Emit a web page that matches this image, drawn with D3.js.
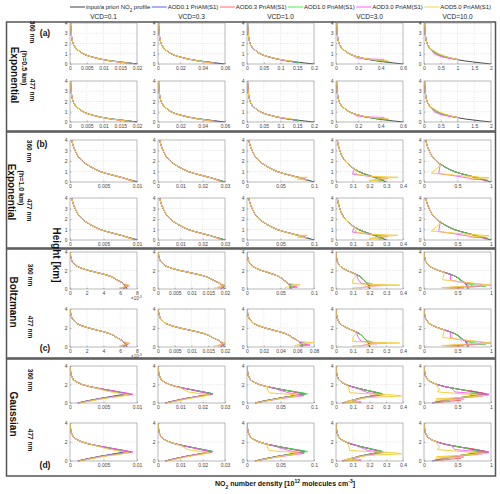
<!DOCTYPE html>
<html><head><meta charset="utf-8">
<script src="https://cdn.jsdelivr.net/npm/d3@7"></script>
<style>body{margin:0;background:#fff} svg{display:block}</style>
</head><body>
<svg id="chart" width="500" height="494"></svg>
<script>
// ---------------- DATA ----------------
const columnTitles = ["VCD=0.1","VCD=0.3","VCD=1.0","VCD=3.0","VCD=10.0"];
const seriesNames = ["input/a priori NO2 profile","AOD0.1 PriAM(S1)","AOD0.3 PriAM(S1)","AOD1.0 PriAM(S1)","AOD3.0 PriAM(S1)","AOD5.0 PriAM(S1)"];
const groupLetters = ["(a)","(b)","(c)","(d)"];
const profileNames = ["Exponential","Exponential","Boltzmann","Gaussian"];
const scaleHeights = ["(h=0.5 km)","(h=1.0 km)","",""];
const wavelengths = ["360 nm","477 nm"];

// heights (km) of the a priori profile samples
const heights = [0,0.1,0.2,0.3,0.4,0.5,0.6,0.7,0.8,0.9,1.0,1.2,1.4,1.6,1.8,2.0,2.25,2.5,3.0,3.5,4.0];
// a priori profiles, relative to their value at the peak
const aprioriA = [1,0.86,0.73,0.61,0.52,0.44,0.38,0.32,0.27,0.23,0.195,0.15,0.11,0.08,0.06,0.045,0.035,0.027,0.017,0.012,0.008];
const aprioriB = [1,0.95,0.89,0.84,0.79,0.73,0.67,0.61,0.55,0.5,0.45,0.38,0.32,0.27,0.22,0.18,0.145,0.115,0.075,0.045,0.025];
const aprioriC = [1,0.995,0.985,0.975,0.96,0.95,0.93,0.91,0.88,0.85,0.82,0.77,0.7,0.59,0.46,0.33,0.2,0.11,0.035,0.012,0.004];
const aprioriD = [0.14,0.2,0.27,0.35,0.44,0.53,0.63,0.73,0.83,0.93,1.0,0.82,0.64,0.47,0.32,0.21,0.12,0.06,0.02,0.008,0.004];

// peak a priori NO2 number density per VCD column (10^12 molec cm-3)
const peaksA = [0.02,0.06,0.2,0.6,2.0];
const peaksB = [0.01,0.03,0.1,0.3,1.0];
const peaksC = [0.0068,0.0198,0.066,0.2,0.66];
const peaksD = [0.0087,0.0245,0.087,0.275,0.92];

// x tick values per column
const xTicksA = [[0,0.005,0.01,0.015,0.02],[0,0.02,0.04,0.06],[0,0.05,0.1,0.15,0.2],[0,0.2,0.4,0.6],[0,0.5,1,1.5,2]];
const xTicksB = [[0,0.005,0.01],[0,0.01,0.02,0.03],[0,0.05,0.1],[0,0.1,0.2,0.3,0.4],[0,0.5,1]];
const xTicksC = [[0,0.002,0.004,0.006,0.008],[0,0.005,0.01,0.015,0.02],[0,0.05,0.1],[0,0.1,0.2,0.3,0.4],[0,0.5,1]];
const xTicksC477 = [[0,0.002,0.004,0.006,0.008],[0,0.005,0.01,0.015,0.02],[0,0.02,0.04,0.06,0.08],[0,0.1,0.2,0.3,0.4],[0,0.5,1]];
const xTicksD = [[0,0.005,0.01],[0,0.01,0.02,0.03],[0,0.05,0.1],[0,0.1,0.2,0.3,0.4],[0,0.5,1]];
const yTicksExp = [0,1,2,3,4];
const yTicksOther = [0,2,4];

// retrieved profiles (AOD0.1, 0.3, 1.0, 3.0, 5.0): lower part as [height, value relative to peak];
// above the first listed height they coincide with the a priori
const tailsA = [
 [[[0.3,0.62],[0.15,0.82],[0.05,0.95],[0,1.0]],
  [[0.3,0.6],[0.15,0.8],[0.05,0.93],[0.02,0.97]],
  [[0.3,0.63],[0.15,0.83],[0.05,0.93],[0.03,0.95]],
  [[0.3,0.59],[0.15,0.78],[0.06,0.88],[0.03,0.92]],
  [[0.3,0.6],[0.15,0.77],[0.08,0.85],[0.05,0.88]]],
 [[[0.3,0.62],[0.15,0.8],[0.05,0.9],[0.02,0.93]],
  [[0.3,0.6],[0.15,0.78],[0.05,0.88],[0.03,0.9]],
  [[0.3,0.63],[0.15,0.8],[0.06,0.86],[0.04,0.88]],
  [[0.3,0.58],[0.15,0.75],[0.06,0.85],[0.03,0.88]],
  [[0.3,0.59],[0.15,0.74],[0.08,0.8],[0.05,0.84]]],
 [[[0.4,0.52],[0.25,0.65],[0.15,0.74]],
  [[0.4,0.52],[0.25,0.66],[0.2,0.71]],
  [[0.4,0.53],[0.25,0.68],[0.15,0.78]],
  [[0.45,0.47],[0.3,0.6],[0.25,0.68]],
  [[0.45,0.5],[0.35,0.6],[0.3,0.67]]],
 [[[0.5,0.44],[0.35,0.63],[0.25,0.76]],
  [[0.5,0.43],[0.35,0.62],[0.3,0.72]],
  [[0.5,0.46],[0.3,0.66],[0.2,0.8]],
  [[0.8,0.27],[0.6,0.3],[0.5,0.45],[0.45,0.72]],
  [[0.5,0.47],[0.4,0.62],[0.35,0.78]]],
 [[[0.8,0.27],[0.6,0.38],[0.45,0.5],[0,0.5]],
  [[0.8,0.26],[0.6,0.37],[0.45,0.5],[0,0.5]],
  [[0.8,0.27],[0.6,0.39],[0.4,0.5],[0,0.5]],
  [[1.4,0.11],[1.0,0.15],[0.7,0.26],[0.5,0.42],[0.45,0.5],[0,0.5]],
  [[1.4,0.12],[1.0,0.22],[0.7,0.34],[0.5,0.46],[0.45,0.5],[0,0.5]]]
];
const tailsB = [
 [[[0.2,0.9],[0.1,0.96],[0.02,1.0]],
  [[0.2,0.88],[0.1,0.94],[0.03,0.98]],
  [[0.2,0.9],[0.1,0.95],[0.04,0.97]],
  [[0.2,0.87],[0.1,0.93],[0.04,0.96]],
  [[0.2,0.88],[0.1,0.92],[0.05,0.95]]],
 [[[0.2,0.9],[0.1,0.95],[0.02,0.99]],
  [[0.2,0.89],[0.1,0.94],[0.03,0.97]],
  [[0.2,0.91],[0.1,0.96],[0.04,0.98]],
  [[0.2,0.87],[0.1,0.92],[0.04,0.95]],
  [[0.2,0.88],[0.1,0.91],[0.05,0.94]]],
 [[[0.4,0.8],[0.2,0.9],[0.1,0.95]],
  [[0.4,0.8],[0.25,0.86],[0.15,0.9]],
  [[0.4,0.82],[0.2,0.9],[0.12,0.92]],
  [[0.5,0.72],[0.35,0.86],[0.3,0.84],[0.15,0.88]],
  [[0.6,0.66],[0.45,0.75],[0.45,0.9],[0.35,0.8],[0.25,0.75],[0.2,0.9]]],
 [[[0.3,0.84],[0.15,0.92],[0.05,0.97]],
  [[0.6,0.62],[0.5,0.75],[0.3,0.9],[0.1,0.95]],
  [[0.5,0.72],[0.3,0.86],[0.1,0.95]],
  [[1.2,0.36],[0.75,0.33],[0.6,0.57],[0.35,1.03],[0.15,0.83],[0.05,0.9]],
  [[1.0,0.42],[0.8,0.37],[0.55,0.67],[0.45,1.23],[0.35,0.93],[0.15,0.67],[0.1,0.9]]],
 [[[0.6,0.67],[0.3,0.85],[0.1,0.95]],
  [[0.6,0.66],[0.3,0.84],[0.15,0.9],[0.05,0.93]],
  [[0.6,0.68],[0.3,0.86],[0.1,0.96]],
  [[1.6,0.24],[0.8,0.22],[0.6,0.45],[0.35,0.68],[0.25,0.75],[0.2,0.95]],
  [[1.6,0.25],[0.85,0.11],[0.75,0.3],[0.6,0.55],[0.4,0.97],[0.3,0.7],[0.15,0.75]]]
];
const tailsC = [
 [[[0.5,0.95],[0.3,1.0],[0.1,0.96],[0.02,0.93]],
  [[0.5,0.94],[0.3,1.02],[0.15,0.98],[0.05,0.94]],
  [[0.5,0.96],[0.3,1.01],[0.1,0.94]],
  [[0.5,0.95],[0.35,1.04],[0.2,0.95],[0.08,0.9]],
  [[0.6,0.92],[0.4,1.05],[0.3,0.97],[0.15,0.9],[0.1,0.86]]],
 [[[0.5,0.95],[0.3,1.0],[0.1,0.97],[0.02,0.95]],
  [[0.5,0.94],[0.3,1.01],[0.15,0.97],[0.05,0.93]],
  [[0.5,0.96],[0.3,1.01],[0.1,0.95]],
  [[0.5,0.95],[0.35,1.02],[0.2,0.93],[0.08,0.9]],
  [[0.6,0.92],[0.4,1.03],[0.3,0.95],[0.15,0.88],[0.1,0.84]]],
 [[[0.5,0.95],[0.3,1.02],[0.1,0.96]],
  [[0.5,0.96],[0.25,1.08],[0.15,0.95]],
  [[0.55,0.95],[0.4,1.06],[0.25,0.98],[0.1,0.96]],
  [[0.5,0.95],[0.2,1.14],[0.12,0.95]],
  [[0.6,0.93],[0.45,1.2],[0.35,0.98],[0.2,0.9],[0.1,0.85]]],
 [[[0.6,0.93],[0.3,1.0],[0.1,0.98]],
  [[0.6,0.92],[0.45,1.05],[0.3,0.97],[0.1,0.95]],
  [[0.7,0.92],[0.5,1.1],[0.45,1.2],[0.3,1.0],[0.1,0.97]],
  [[1.5,0.62],[1.1,0.65],[0.6,0.75],[0.45,1.2],[0.4,1.5],[0.3,1.0],[0.1,0.7]],
  [[1.45,0.6],[1.0,0.5],[0.6,0.5],[0.5,1.0],[0.42,1.9],[0.35,1.1],[0.2,0.9],[0.1,0.5]]],
 [[[0.6,0.93],[0.35,1.0],[0.1,0.98]],
  [[0.8,0.87],[0.5,1.05],[0.3,1.1],[0.15,0.6],[0.1,0.9]],
  [[1.0,0.8],[0.6,0.95],[0.35,1.25],[0.3,1.4],[0.2,1.0],[0.1,0.95]],
  [[1.5,0.6],[1.0,0.6],[0.8,0.75],[0.5,1.3],[0.4,1.5],[0.25,1.0],[0.15,0.5],[0.1,0.8]],
  [[1.6,0.45],[1.0,0.42],[0.8,0.8],[0.45,1.45],[0.4,1.52],[0.3,0.9],[0.15,0.4],[0.08,0.75]]]
];
const tailsD = [
 [[[1.4,0.64],[1.0,0.98],[0.5,0.52],[0,0.13]],
  [[1.4,0.66],[0.95,1.05],[0.5,0.54],[0,0.14]],
  [[1.4,0.65],[0.9,1.04],[0.5,0.55],[0,0.14]],
  [[1.4,0.67],[0.95,1.08],[0.5,0.56],[0,0.14]],
  [[1.6,0.45],[1.3,0.62],[0.85,1.01],[0.5,0.6],[0,0.16]]],
 [[[1.4,0.65],[1.0,1.0],[0.5,0.52],[0,0.13]],
  [[1.4,0.63],[0.95,0.96],[0.5,0.5],[0,0.13]],
  [[1.4,0.66],[1.0,1.0],[0.5,0.54],[0,0.14]],
  [[1.4,0.64],[0.95,0.97],[0.5,0.54],[0,0.14]],
  [[1.6,0.42],[1.2,0.55],[0.85,0.95],[0.5,0.58],[0,0.16]]],
 [[[1.2,0.82],[1.0,1.0],[0.5,0.53],[0,0.14]],
  [[1.2,0.8],[0.95,0.98],[0.5,0.54],[0,0.14]],
  [[1.2,0.86],[1.0,1.04],[0.5,0.55],[0,0.14]],
  [[1.4,0.55],[1.1,0.72],[0.8,0.98],[0.4,0.5],[0,0.14]],
  [[1.7,0.38],[1.6,0.34],[1.1,0.38],[0.9,0.8],[0.8,0.9],[0.4,0.48],[0,0.15]]],
 [[[1.2,0.82],[1.0,1.0],[0.5,0.5],[0,0.14]],
  [[1.2,0.8],[0.95,1.0],[0.5,0.5],[0,0.14]],
  [[1.2,0.85],[1.0,1.02],[0.5,0.52],[0,0.15]],
  [[1.5,0.5],[1.1,0.7],[0.9,1.06],[0.5,0.55],[0.15,0.35],[0.1,0.55],[0,0.15]],
  [[1.9,0.25],[1.5,0.28],[1.1,0.3],[0.85,1.3],[0.75,1.42],[0.6,0.7],[0.3,0.35],[0.15,0.2],[0.1,0.5],[0,0.15]]],
 [[[1.3,0.75],[1.0,1.0],[0.5,0.5],[0,0.13]],
  [[1.3,0.78],[0.95,1.05],[0.6,0.6],[0.4,0.4],[0.3,0.6],[0,0.15]],
  [[1.3,0.7],[1.1,0.8],[0.9,1.05],[0.6,0.6],[0.5,0.55],[0,0.15]],
  [[1.6,0.45],[1.2,0.5],[0.9,1.05],[0.7,0.9],[0.5,0.5],[0.4,0.65],[0.3,0.3],[0,0.15]],
  [[1.9,0.2],[1.5,0.25],[1.2,0.22],[1.0,0.6],[0.8,1.0],[0.6,0.6],[0.45,0.2],[0.4,0.65],[0.3,0.2],[0,0.15]]]
];

// ---------------- DRAWING ----------------
const FONT = "'Liberation Sans', Arial, sans-serif";
const colors = ["#2a2a2a","#4646ff","#ff5a5a","#3ce83c","#ff46ff","#f0d040"];
const svg = d3.select("#chart");
svg.append("rect").attr("width",500).attr("height",494).attr("fill","#fff");

const groups = [
 {apriori:aprioriA, peaks:peaksA, ticks:[xTicksA,xTicksA], tails:tailsA, yTicks:yTicksExp},
 {apriori:aprioriB, peaks:peaksB, ticks:[xTicksB,xTicksB], tails:tailsB, yTicks:yTicksExp},
 {apriori:aprioriC, peaks:peaksC, ticks:[xTicksC,xTicksC477], tails:tailsC, yTicks:yTicksOther},
 {apriori:aprioriD, peaks:peaksD, ticks:[xTicksD,xTicksD], tails:tailsD, yTicks:yTicksOther}
];

const colLeft = [70,158,247,336,424], panelW = 67;
const rowBox = [[[23,64],[81,122]],[[140,182],[198,240]],[[252,289],[309,347]],[[366,403],[423,461]]];
const groupBox = [[22,131],[132,248],[249,358],[359,476]];

groupBox.forEach(([t,b]) => svg.append("rect")
  .attr("x",6.5).attr("y",t).attr("width",489).attr("height",b-t)
  .attr("fill","none").attr("stroke","#555").attr("stroke-width",1.5));

const defs = svg.append("defs");
const fmt = d3.format("~g");

groups.forEach((G, gi) => {
  [0,1].forEach(ri => {
    const [top,bottom] = rowBox[gi][ri];
    for (let ci=0; ci<5; ci++) {
      const ticks = G.ticks[ri][ci];
      const xmax = ticks[ticks.length-1];
      const x = d3.scaleLinear().domain([0,xmax]).range([colLeft[ci], colLeft[ci]+panelW]);
      const y = d3.scaleLinear().domain([0,4]).range([bottom, top]);
      const g = svg.append("g");
      g.append("rect").attr("x",colLeft[ci]).attr("y",top).attr("width",panelW).attr("height",bottom-top).attr("fill","#fff");
      // grid
      g.selectAll(".gx").data(ticks.slice(1,-1)).join("line").attr("class","gx")
        .attr("x1",d=>x(d)).attr("x2",d=>x(d)).attr("y1",top).attr("y2",bottom)
        .attr("stroke","#d4d4d4").attr("stroke-width",0.5).attr("stroke-dasharray","1,1");
      g.selectAll(".gy").data(G.yTicks.slice(1,-1)).join("line").attr("class","gy")
        .attr("y1",d=>y(d)).attr("y2",d=>y(d)).attr("x1",colLeft[ci]).attr("x2",colLeft[ci]+panelW)
        .attr("stroke","#d4d4d4").attr("stroke-width",0.5).attr("stroke-dasharray","1,1");
      // axes
      const xa = d3.axisBottom(x).tickValues(ticks).tickSize(-1.5).tickPadding(2.5)
        .tickFormat(d => (gi===2 && ci===0) ? fmt(Math.round(d*1000)) : fmt(d));
      const ya = d3.axisLeft(y).tickValues(G.yTicks).tickSize(-1.5).tickPadding(2.5).tickFormat(fmt);
      const gx = g.append("g").attr("transform",`translate(0,${bottom})`).call(xa);
      const gy = g.append("g").attr("transform",`translate(${colLeft[ci]},0)`).call(ya);
      [gx,gy].forEach(a => {
        a.select(".domain").remove();
        a.selectAll("line").attr("stroke","#777").attr("stroke-width",0.5);
        a.selectAll("text").attr("font-family",FONT).attr("font-size",5).attr("fill","#444");
      });
      gx.selectAll("text").attr("dy","0.6em");
      if (gi===2 && ci===0) {
        const t = g.append("text").attr("x",colLeft[ci]+panelW-6).attr("y",bottom+11)
          .attr("font-family",FONT).attr("font-size",4.5).attr("fill","#444").text("\u00d710");
        t.append("tspan").attr("baseline-shift","super").attr("font-size",3.5).text("-3");
      }
      // clip
      const cid = `cp${gi}${ri}${ci}`;
      defs.append("clipPath").attr("id",cid).append("rect")
        .attr("x",colLeft[ci]).attr("y",top-0.5).attr("width",panelW).attr("height",bottom-top+1);
      const peak = G.peaks[ci];
      const line = d3.line().x(d=>x(d[1]*peak)).y(d=>y(d[0]));
      const apr = heights.map((h,i)=>[h, G.apriori[i]]).reverse();
      const curves = g.append("g").attr("clip-path",`url(#${cid})`);
      for (let s=0; s<6; s++) {
        let pts;
        if (s===0) pts = apr;
        else {
          const tail = G.tails[ci][s-1];
          pts = apr.filter(p => p[0] > tail[0][0]).concat(tail);
        }
        curves.append("path").attr("d",line(pts)).attr("fill","none")
          .attr("stroke",colors[s]).attr("stroke-width",s===5?1.0:0.85).attr("stroke-linejoin","round");
      }
      g.append("rect").attr("x",colLeft[ci]).attr("y",top).attr("width",panelW).attr("height",bottom-top)
        .attr("fill","none").attr("stroke","#8a8a8a").attr("stroke-width",0.6);
    }
  });
});

// column titles
columnTitles.forEach((t,i) => svg.append("text").attr("x",colLeft[i]+panelW/2).attr("y",19)
  .attr("text-anchor","middle").attr("font-family",FONT).attr("font-size",6.5).attr("fill","#222").text(t));

// legend
(function(){
  const lg = svg.append("g");
  let xpos = 70;
  const items = [];
  seriesNames.forEach((name,i) => {
    const it = lg.append("g");
    it.append("line").attr("x1",0).attr("x2",15).attr("y1",0).attr("y2",0).attr("stroke",colors[i]).attr("stroke-width",0.9);
    const t = it.append("text").attr("x",16).attr("y",2).attr("font-family",FONT).attr("font-size",6).attr("fill","#222");
    if (i===0) {
      t.append("tspan").text("input/a priori NO");
      t.append("tspan").attr("baseline-shift","sub").attr("font-size",4.5).text("2");
      t.append("tspan").text(" profile");
    } else t.text(name);
    items.push({it, w: 16 + t.node().getComputedTextLength()});
  });
  const total = d3.sum(items, d=>d.w);
  const gap = (491 - 70 - total)/(items.length-1);
  items.forEach(d => { d.it.attr("transform",`translate(${xpos},7)`); xpos += d.w + gap; });
})();

// left labels
function vtext(x, y, txt, size, weight) {
  return svg.append("text").attr("transform",`translate(${x},${y}) rotate(90)`)
    .attr("text-anchor","middle").attr("dominant-baseline","central")
    .attr("font-family",FONT).attr("font-size",size).attr("font-weight",weight).attr("fill","#111").text(txt);
}
function htext(x, y, txt, size) {
  return svg.append("text").attr("x",x).attr("y",y).attr("text-anchor","middle").attr("dominant-baseline","central")
    .attr("font-family",FONT).attr("font-size",size).attr("font-weight","bold").attr("fill","#111").text(txt);
}
const labelPos = [
 {letter:[45,33], w1:[32,32], w2:[32,90], sh:[24,68], name:[14,75]},
 {letter:[42,144], w1:[29,151], w2:[29,210], sh:[21,188], name:[11,192]},
 {letter:[45,348], w1:[30,275], w2:[30,327], sh:null, name:[13,302]},
 {letter:[45,465], w1:[30,380], w2:[30,440], sh:null, name:[13,414]}
];
labelPos.forEach((p,i) => {
  htext(p.letter[0], p.letter[1], groupLetters[i], 8.5);
  vtext(p.w1[0], p.w1[1], wavelengths[0], 6.5, "bold");
  vtext(p.w2[0], p.w2[1], wavelengths[1], 6.5, "bold");
  if (p.sh) vtext(p.sh[0], p.sh[1], scaleHeights[i], 7, "bold");
  vtext(p.name[0], p.name[1], profileNames[i], 10, "bold");
});
vtext(56, 255, "Height [km]", 10, "bold");

// x axis title
(function(){
  const t = svg.append("text").attr("x",285).attr("y",486).attr("text-anchor","middle")
    .attr("font-family",FONT).attr("font-size",7).attr("font-weight","bold").attr("fill","#111");
  t.append("tspan").text("NO");
  t.append("tspan").attr("baseline-shift","sub").attr("font-size",5).text("2");
  t.append("tspan").text(" number density [10");
  t.append("tspan").attr("baseline-shift","super").attr("font-size",5).text("12");
  t.append("tspan").text(" molecules cm");
  t.append("tspan").attr("baseline-shift","super").attr("font-size",5).text("-3");
  t.append("tspan").text("]");
})();
</script></body></html>
